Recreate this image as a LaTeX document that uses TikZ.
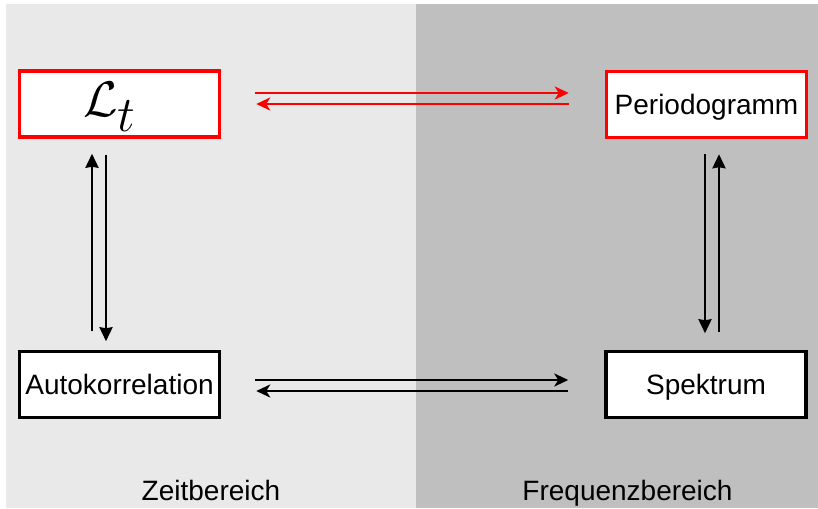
\documentclass[tikz,border=0pt]{standalone}
\usepackage{fix-cm}
\usepackage{fontspec}
\setmainfont{Liberation Sans}
\usetikzlibrary{arrows.meta,calc}
\definecolor{zeitgrau}{HTML}{E9E9E9}
\definecolor{freqgrau}{HTML}{BFBFBF}
\tikzset{
  box/.style={draw, fill=white, line width=3.5pt, minimum width=200pt,
    minimum height=66pt, inner sep=0pt, text height=26pt, text depth=6pt,
    font=\fontsize{28}{32}\selectfont},
  redbox/.style={box, draw=red},
  harrow/.style={line width=2.5pt, -{Stealth[length=14pt,width=13pt,inset=4pt]}},
  varrow/.style={line width=2.5pt, -{Stealth[length=14pt,width=13pt,inset=1pt]}},
  area/.style={font=\fontsize{28}{32}\selectfont, anchor=base}
}
\begin{document}
\begin{tikzpicture}[x=1pt,y=-1pt]
  \useasboundingbox (0,0) rectangle (818,508);
  % time and frequency domain backgrounds
  \fill[zeitgrau] (6,4) rectangle (416,508);
  \fill[freqgrau] (416,4) rectangle (818,508);

  % L_t, with its index set at full size and lowered
  \node[redbox, text height=44pt, text depth=18pt] (Lt) at (119.5,104)
    {\fontsize{50}{60}\selectfont\hspace*{-20pt}$\mathcal{L}$\raisebox{-15pt}{$t$}};
  \node[redbox] (Per) at (706.5,104.5) {Periodogramm};
  \node[box]    (Aut) at (119.5,384.5) {Autokorrelation};
  \node[box]    (Spk) at (706,384.5)   {Spektrum};

  % top pair (red)
  \draw[harrow, red] ($(Lt.east)+(34,-11)$) -- ($(Per.west)+(-36,-11.5)$);
  \draw[harrow, red] ($(Per.west)+(-36,-0.5)$) -- ($(Lt.east)+(35,0)$);
  % bottom pair
  \draw[harrow] ($(Aut.east)+(34,-4.5)$) -- ($(Spk.west)+(-36,-4.5)$);
  \draw[harrow] ($(Spk.west)+(-36,6.5)$) -- ($(Aut.east)+(35,6.5)$);
  % left pair
  \draw[varrow] ($(Aut.north)+(-27.5,-18.5)$) -- ($(Lt.south)+(-27.5,15)$);
  \draw[varrow] ($(Lt.south)+(-13.5,16)$) -- ($(Aut.north)+(-13.5,-8.5)$);
  % right pair
  \draw[varrow] ($(Per.south)+(-1.5,15)$) -- ($(Spk.north)+(-1,-16.5)$);
  \draw[varrow] ($(Spk.north)+(13,-17.5)$) -- ($(Per.south)+(12.5,15)$);

  \node[area] (zeit) at (211,500)   {Zeitbereich};
  \node[area] (freq) at (627.5,500) {Frequenzbereich};
\end{tikzpicture}
\end{document}
